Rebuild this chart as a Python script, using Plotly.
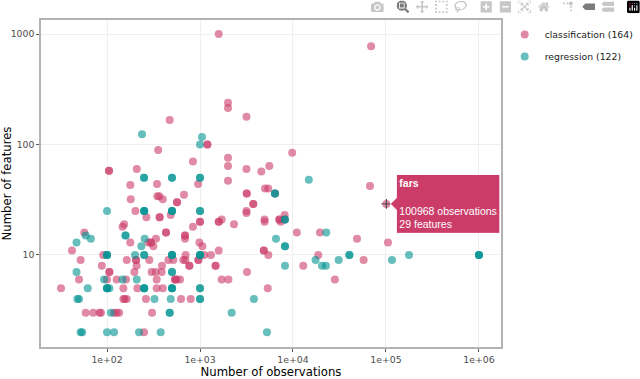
import plotly.graph_objects as go

class_obs = [250,59,71,83,86,119,127,135,305,150,155,163,262,625,794,32,150,212,342,398,5350,
 50,100,127,160,342,538,538,561,610,1710,2020,106,106,197,302,334,387,3200,88,208,390,768,768,1470,1470,
 52,163,205,205,285,457,516,661,695,960,960,91,700,1110,1310,5430,42,1590,4870,315,1060,178,297,297,278,985,
 336,690,690,690,57,431,431,147,153,840,2320,1590,1590,1710,1000,1000,265,368,368,484,202,3160,3160,4950,4950,
 7130,7130,3740,3740,3180,3180,180,348,365,398,566,566,673,
 1590,2000,2000,3160,6400,472,1200,1200,355,840,2000,2000,3160,4570,5560,105,105,209,178,345,955,2000,5000,5420,
 9800,7380,8130,8130,11000,19500,12900,18700,4840,67300,105000,48800,57500,28200,69200,100968]
class_feat = [2,3,3,3,3,3,3,3,3,4,4,4,4,4,4,5,5,5,5,5,5,
 6,6,6,6,6,6,6,6,6,6,6,7,7,7,7,7,7,7,8,8,8,8,8,8,8,
 9,9,9,9,9,9,9,9,9,9,9,10,10,10,10,10,11,11,11,12,12,13,13,13,13,13,
 14,14,15,15,16,16,16,18,19,18,19,20,20,21,20,20,22,22,22,23,25,25,24,21,20,
 21,21,29,29,36,36,32,34,34,32,30,30,35,
 1000,239,214,178,36,167,100,100,89,70,76,64,60,57,64,58,58,60,43,44,44,47,40,40,
 84,20,23,21,16,16,8,10,11,42,13,14,9,6,776,29]

reg_obs = [52,54,100,119,221,378,5250,110,472,472,2190,48,50,324,484,1000,1000,3800,
 62,100,100,100,106,251,251,251,500,500,500,1000,1000,93,147,209,47,500,500,
 100,100,100,200,251,251,500,500,500,1000,1000,1000,234,47,67,59,158,158,254,100,
 251,251,251,500,500,500,1000,1000,6560,6400,6400,1050,1000,1000,1000,14800,238,250,250,500,500,
 8200,8200,8200,8200,8200,17500,20500,22600,22800,31000,40400,40400,116000,177000,1000000,1000000,1000000]
reg_feat = [2,2,2,2,2,2,2,3,3,3,3,4,4,4,4,4,4,4,
 5,5,5,5,5,5,5,5,5,5,5,5,5,6,6,6,7,7,7,
 10,10,10,10,10,10,10,10,10,10,10,10,12,13,14,15,15,15,14,25,
 25,25,25,25,25,25,25,25,14,36,36,117,100,50,50,48,124,50,50,50,50,
 21,21,12,12,8,9,8,8,16,9,10,10,9,10,10,10,10]

hover_name = "fars"
hover_obs = [100968]
hover_feat = [29]
x_ticks = [100,1000,10000,100000,1000000]
x_labels = ["1e+02","1e+03","1e+04","1e+05","1e+06"]
y_ticks = [10,100,1000]
y_labels = ["10","100","1000"]

PINK = "#CB3C69"; TEAL = "#009391"; FONT = "DejaVu Sans"

def hover(obs, feat):
    out = []
    for o, f in zip(obs, feat):
        head = f"<b>{hover_name}</b><br><br>" if o == hover_obs[0] else ""
        out.append(f"{head}{o} observations<br>{f} features")
    return out

fig = go.Figure()
for name, xs, ys, col in [("classification (164)", class_obs, class_feat, PINK),
                          ("regression (122)", reg_obs, reg_feat, TEAL)]:
    fig.add_trace(go.Scatter(x=xs, y=ys, mode="markers", name=name, legendgroup=name,
        marker=dict(color=col, size=8, opacity=0.6, line=dict(width=0)),
        text=hover(xs, ys), hoverinfo="text",
        hoverlabel=dict(bgcolor=col, bordercolor="white", align="left",
                        font=dict(color="white", size=10.5, family="Liberation Sans"))))
fig.add_trace(go.Scatter(x=hover_obs, y=hover_feat, mode="markers", showlegend=False, hoverinfo="skip",
    marker=dict(symbol="cross-thin", size=7, line=dict(color="#444444", width=1))))

axis = dict(type="log", automargin=False, showline=True, mirror=True, linecolor="#B3B3B3", linewidth=1.5,
            gridcolor="#EFEFEF", gridwidth=1.2, zeroline=False, ticks="outside", ticklen=3,
            tickcolor="#555555", tickwidth=1, tickfont=dict(size=9.3, color="#4D4D4D", family=FONT))
fig.update_layout(width=640, height=379, margin=dict(l=41, r=139, t=20, b=32, autoexpand=False),
    paper_bgcolor="white", plot_bgcolor="white", hovermode="closest", dragmode="zoom",
    font=dict(family=FONT),
    xaxis=dict(axis, range=[1.29, 6.237], tickvals=x_ticks, ticktext=x_labels,
               title=dict(text="Number of observations", font=dict(size=11.7, color="black"), standoff=6)),
    yaxis=dict(axis, range=[0.167, 3.127], tickvals=y_ticks, ticktext=y_labels,
               title=dict(text="Number of features", font=dict(size=11.7, color="black"), standoff=4)),
    legend=dict(x=1.008, y=1.0, xanchor="left", yanchor="top", tracegroupgap=3,
                font=dict(size=9.3, color="#1A1A1A", family=FONT), bgcolor="rgba(0,0,0,0)"))

config = dict(displayModeBar=True, displaylogo=True, modeBarButtons=[
    ["toImage"], ["zoom2d","pan2d","select2d","lasso2d"],
    ["zoomIn2d","zoomOut2d","autoScale2d","resetScale2d"],
    ["toggleSpikelines","hoverClosestCartesian","hoverCompareCartesian"]])

idx = class_obs.index(hover_obs[0])
post = f"""
document.body.style.margin='0';
document.documentElement.style.overflow='hidden';
var gd = document.getElementById('{{plot_id}}');
function h(){{
  Plotly.Fx.hover(gd, [{{curveNumber:0, pointNumber:{idx}}}]);
  var m = gd.querySelector('.modebar');
  if (m) {{ m.style.transformOrigin='top right'; m.style.transform='scale(0.8)'; m.style.top='-2px'; m.style.right='-3px'; }}
  gd.querySelectorAll('.modebar a svg .cls-0').forEach(function(e){{ e.style.fill='#119dff'; }});
  ['.cls-2','.cls-3','.cls-4','.cls-5'].forEach(function(c){{
    gd.querySelectorAll('.modebar a svg '+c).forEach(function(e){{ e.style.fill='#e5f4ff'; }});
  }});
}}
h(); setTimeout(h, 150);
"""
fig.write_html("out.html", config=config, post_script=post)
